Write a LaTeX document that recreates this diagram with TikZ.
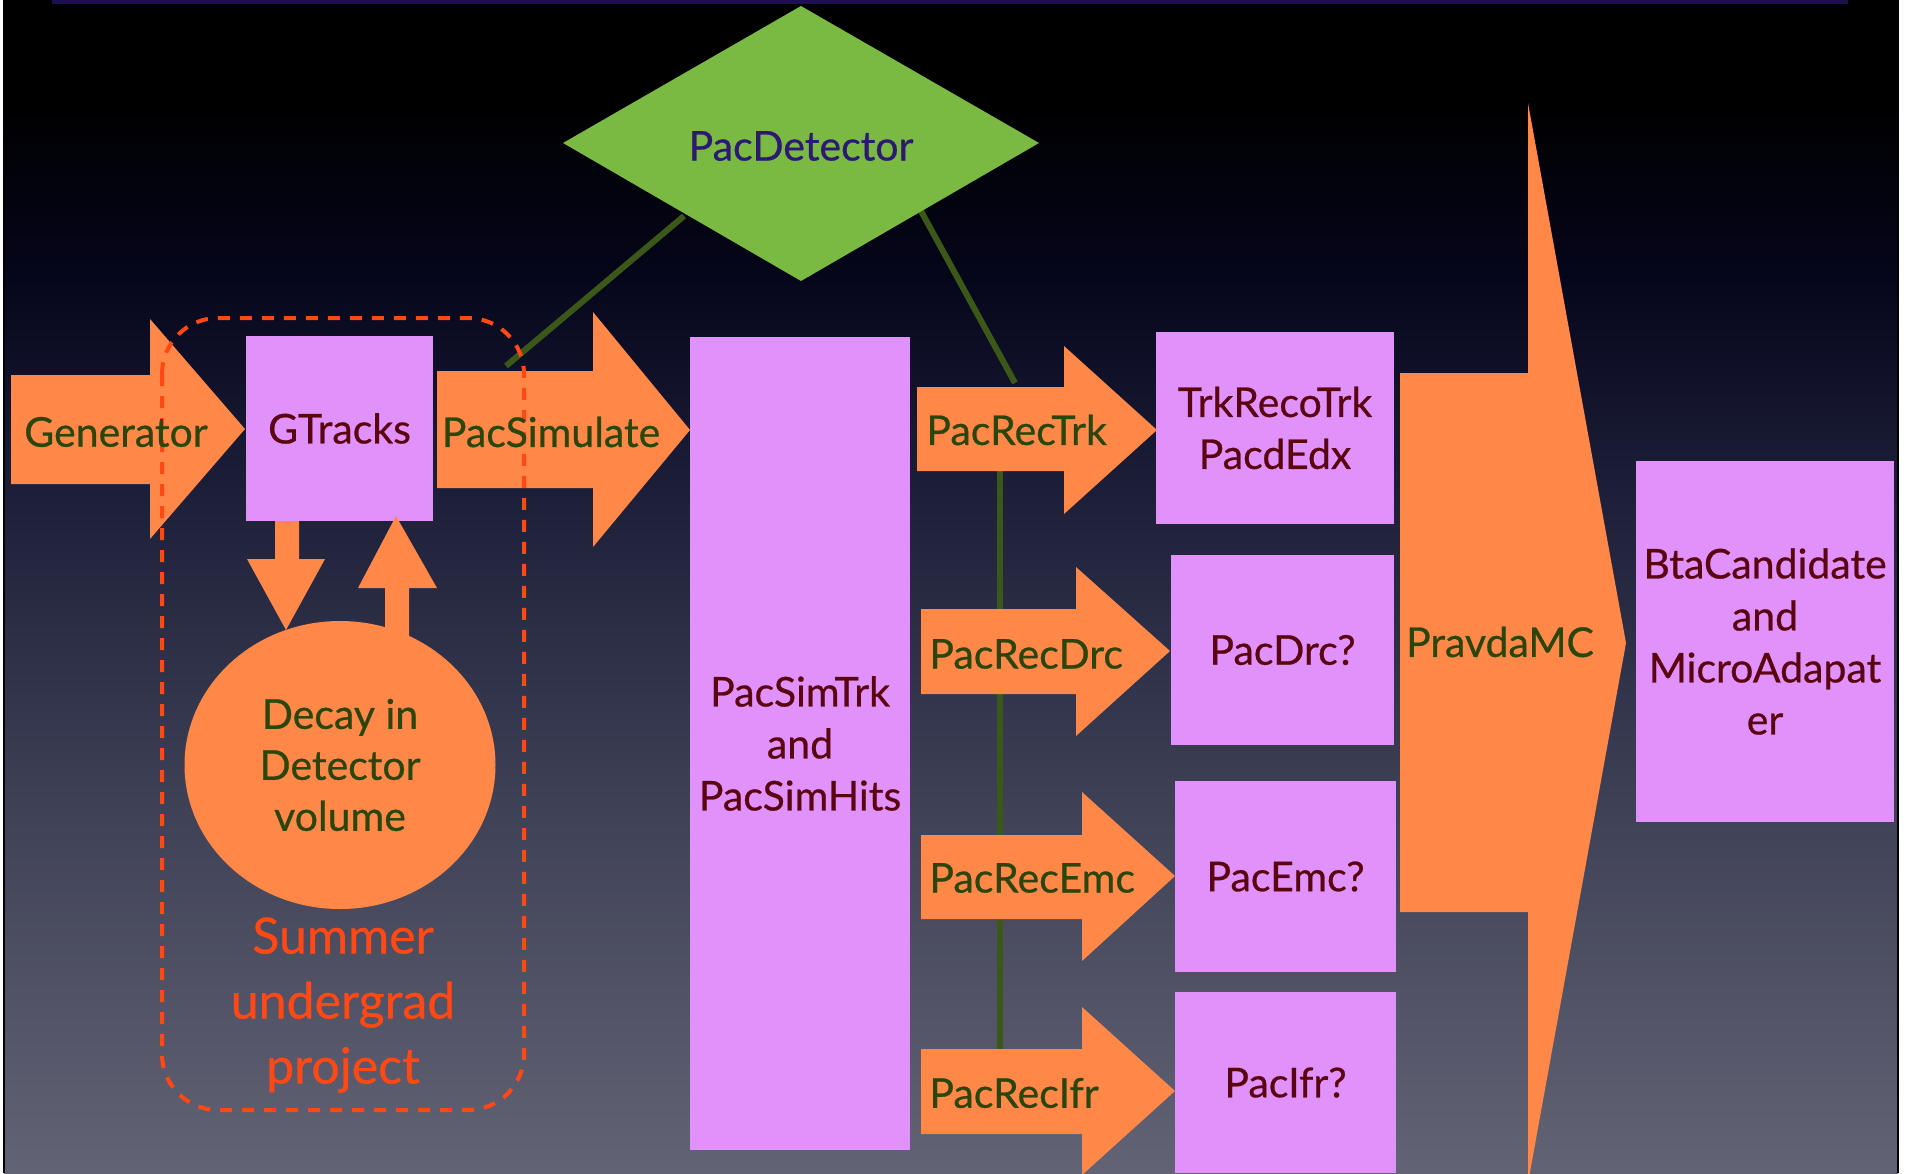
\documentclass[tikz,border=0pt]{standalone}
\usepackage{fontspec}
\setmainfont{Lato}[FakeBold=0.6]
\newfontfamily\lblfont{Lato}[FakeBold=0.6]
\usetikzlibrary{shapes.geometric}
\definecolor{orng}{RGB}{255,136,72}
\definecolor{pinkc}{RGB}{225,145,250}
\definecolor{diamg}{RGB}{122,185,66}
\definecolor{linkg}{RGB}{60,88,24}
\definecolor{txtg}{RGB}{42,70,12}
\definecolor{txtm}{RGB}{90,5,15}
\definecolor{txtb}{RGB}{45,25,115}
\definecolor{redor}{RGB}{255,72,20}
\definecolor{topbar}{RGB}{30,15,80}
\definecolor{bgA}{RGB}{6,6,28}
\definecolor{bgC}{RGB}{30,32,58}
\definecolor{bgM}{RGB}{62,64,86}
\definecolor{bgB}{RGB}{98,99,116}
\begin{document}
\begin{tikzpicture}[x=0.5pt,y=-0.5pt,
  box/.style={rectangle, fill=pinkc, inner sep=0pt, text=txtm, align=center, font=\lblfont\fontsize{20.5pt}{26pt}\selectfont},
  lbl/.style={inner sep=0pt, text=txtg, align=center, font=\lblfont\fontsize{20.5pt}{26pt}\selectfont},
  arrowfill/.style={fill=orng},
  link/.style={draw=linkg, line width=3pt}]
\useasboundingbox (0,0) rectangle (1906,1173);
\fill[white] (0,0) rectangle (1906,1173);
\fill[black] (4,0) rectangle (1898,101);
\shade[top color=black, bottom color=bgA] (4,100) rectangle (1898,281);
\shade[top color=bgA, bottom color=bgC] (4,280) rectangle (1898,501);
\shade[top color=bgC, bottom color=bgM] (4,500) rectangle (1898,801);
\shade[top color=bgM, bottom color=bgB] (4,800) rectangle (1898,1173);
\draw[black, line width=1pt] (4,0) -- (4,1173) (1898,0) -- (1898,1173);
\fill[topbar] (52,0) rectangle (1848,3.5);
\clip (4,0) rectangle (1898,1173);

% connectors behind shapes
\coordinate (vtop) at (1000,430);
\coordinate (vbot) at (1000,1091);
\draw[link, line width=3.3pt] (vtop) -- (vbot);
\coordinate (d1) at (684,216);
\coordinate (s1) at (506,366);
\coordinate (d2) at (921,211);
\coordinate (t2) at (1015,383);
\draw[link] (d1) -- (s1);
\draw[link] (d2) -- (t2);

% diamond
\fill[diamg] (801,6) -- (1039,143) -- (801,281) -- (563,143) -- cycle;
\node[inner sep=0pt, text=txtb, font=\lblfont\fontsize{20.5pt}{26pt}\selectfont] (det) at (801,146) {PacDetector};

% pink boxes
\node[box, minimum width=93.5pt, minimum height=92.5pt] (gtr) at (339.5,428.5) {GTracks};
\node[box, minimum width=110pt, minimum height=406.5pt] (sim) at (800,743.5) {PacSimTrk\\and\\PacSimHits};
\node[box, minimum width=119pt, minimum height=96pt] (trk) at (1275,428) {TrkRecoTrk\\PacdEdx};
\node[box, minimum width=111.5pt, minimum height=95pt] (drc) at (1282.5,650) {PacDrc?};
\node[box, minimum width=110.5pt, minimum height=95.5pt] (emc) at (1285.5,876.5) {PacEmc?};
\node[box, minimum width=110.5pt, minimum height=90.5pt] (ifr) at (1285.5,1082.5) {PacIfr?};
\node[box, minimum width=129pt, minimum height=180.5pt] (bta) at (1765,641.5) {BtaCandidate\\and\\MicroAdapat\\er};

% block arrows
\fill[arrowfill] (11,375) -- (150,375) -- (150,319) -- (245,429) -- (150,539) -- (150,484) -- (11,484) -- cycle;
\fill[arrowfill] (437,371) -- (593,371) -- (593,312) -- (690,430) -- (593,547) -- (593,488) -- (437,488) -- cycle;
\fill[arrowfill] (917,387) -- (1064,387) -- (1064,346) -- (1157,430) -- (1064,514) -- (1064,471) -- (917,471) -- cycle;
\fill[arrowfill] (921,609) -- (1076,609) -- (1076,567) -- (1170,651) -- (1076,736) -- (1076,694) -- (921,694) -- cycle;
\fill[arrowfill] (921,835) -- (1082,835) -- (1082,792) -- (1175,876) -- (1082,961) -- (1082,919) -- (921,919) -- cycle;
\fill[arrowfill] (921,1049) -- (1082,1049) -- (1082,1007) -- (1175,1091) -- (1082,1175) -- (1082,1134) -- (921,1134) -- cycle;
\fill[arrowfill] (1400,373) -- (1528,373) -- (1528,103) -- (1626,643) -- (1528,1183) -- (1528,912) -- (1400,912) -- cycle;
\fill[arrowfill] (275,521) -- (299,521) -- (299,559) -- (325,559) -- (286,630) -- (247,559) -- (275,559) -- cycle;
\fill[arrowfill] (385,645) -- (385,588) -- (358,588) -- (396,516) -- (437,588) -- (409,588) -- (409,645) -- cycle;

% ellipse
\node[ellipse, fill=orng, inner sep=0pt, minimum width=155.5pt, minimum height=144pt, text=txtg, align=center, font=\lblfont\fontsize{20.5pt}{25.5pt}\selectfont] (dec) at (340,765) {Decay in\\Detector\\volume};

% dashed region
\draw[redor, line width=2pt, dash pattern=on 6pt off 5pt, rounded corners=28pt] (162,318) rectangle (524,1110);
\node[inner sep=0pt, text=redor, align=center, font=\lblfont\fontsize{25pt}{32.5pt}\selectfont] (summer) at (343,1005) {Summer\\undergrad\\project};

% arrow labels
\node[lbl] (gen) at (116,432) {Generator};
\node[lbl] (psim) at (551,432) {PacSimulate};
\node[lbl, anchor=west] (rtrk) at (926,430) {PacRecTrk};
\node[lbl, anchor=west] (rdrc) at (929,654) {PacRecDrc};
\node[lbl, anchor=west] (remc) at (929,878) {PacRecEmc};
\node[lbl, anchor=west] (rifr) at (929,1093) {PacRecIfr};
\node[lbl] (pravda) at (1500,642) {PravdaMC};
\end{tikzpicture}
\end{document}
